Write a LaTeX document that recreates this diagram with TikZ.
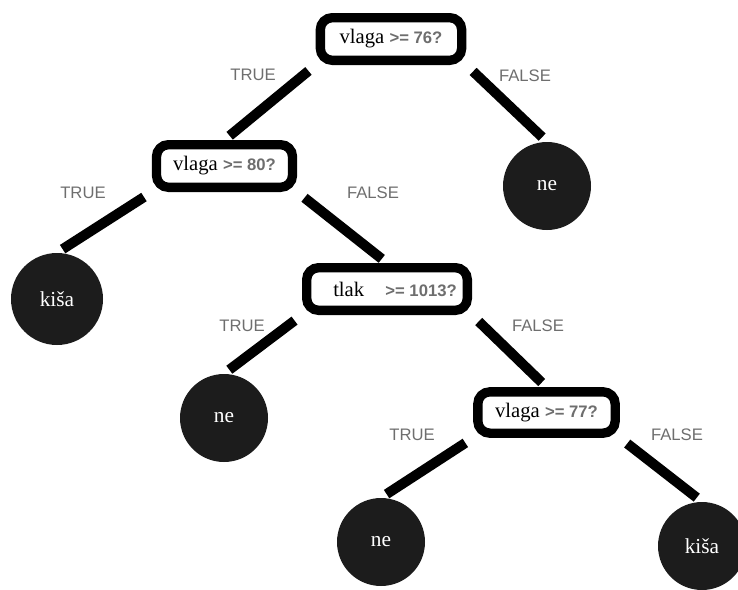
\documentclass[tikz,border=0pt]{standalone}
\usepackage{fontspec}
\setmainfont{Liberation Serif}
\setsansfont{Liberation Sans}
\definecolor{hojacolor}{HTML}{1C1C1C}
\definecolor{etiqcolor}{HTML}{6E6E6E}
\newcommand{\cond}[2]{#1 {\sffamily\bfseries\fontsize{12.5}{14}\selectfont\color{etiqcolor}#2}}

\begin{document}
\begin{tikzpicture}[x=0.75pt, y=-0.75pt,
    pregunta/.style={draw, line width=7pt, rounded corners=9pt, fill=white,
        minimum height=32pt, inner sep=2pt, font=\fontsize{15.5}{18}\selectfont},
    hoja/.style={circle, fill=hojacolor, minimum size=66pt, inner sep=0pt,
        text=white, font=\fontsize{16}{18}\selectfont},
    rama/.style={line width=7.5pt, shorten <=7pt, shorten >=5pt},
    etiqueta/.style={font=\sffamily\fontsize{12.5}{14}\selectfont, text=etiqcolor}]
    \useasboundingbox (0,0) rectangle (738,589);

    % Preguntas
    \node[pregunta, minimum width=106pt] (raiz) at (391,39) {\cond{vlaga}{>= 76?}};
    \node[pregunta, minimum width=102pt] (vlaga80) at (224.5,166) {\cond{vlaga}{>= 80?}};
    \node[pregunta, minimum width=120.5pt] (tlak) at (387,289) {\hspace{12pt}\cond{tlak\hspace{12pt}}{>= 1013?}};
    \node[pregunta, minimum width=103pt, minimum height=31pt] (vlaga77) at (546.5,412.5) {\cond{vlaga}{>= 77?}};

    % Hojas
    \node[hoja] (ne1) at (547,186) {ne};
    \node[hoja, minimum size=69pt] (kisa1) at (57,299) {kiša};
    \node[hoja] (ne2) at (224,418) {ne};
    \node[hoja] (ne3) at (381,542) {ne};
    \node[hoja] (kisa2) at (702,546) {kiša};

    \draw[rama] (raiz.south west) -- (vlaga80.north);
    \draw[rama] (raiz.south east) -- (ne1.north);
    \draw[rama] (vlaga80.south west) -- (kisa1.north);
    \draw[rama] (vlaga80.south east) -- (tlak.north);
    \draw[rama] (tlak.south west) -- (ne2.north);
    \draw[rama] (tlak.south east) -- (vlaga77.north);
    \draw[rama] (vlaga77.south west) -- (ne3.north);
    \draw[rama] (vlaga77.south east) -- (kisa2.north);

    \node[etiqueta] (t1) at (253,75) {TRUE};
    \node[etiqueta] (f1) at (525,76) {FALSE};
    \node[etiqueta] (t2) at (83,193) {TRUE};
    \node[etiqueta] (f2) at (373,193) {FALSE};
    \node[etiqueta] (t3) at (242,326) {TRUE};
    \node[etiqueta] (f3) at (538,326) {FALSE};
    \node[etiqueta] (t4) at (412,435) {TRUE};
    \node[etiqueta] (f4) at (677,435) {FALSE};
\end{tikzpicture}
\end{document}
